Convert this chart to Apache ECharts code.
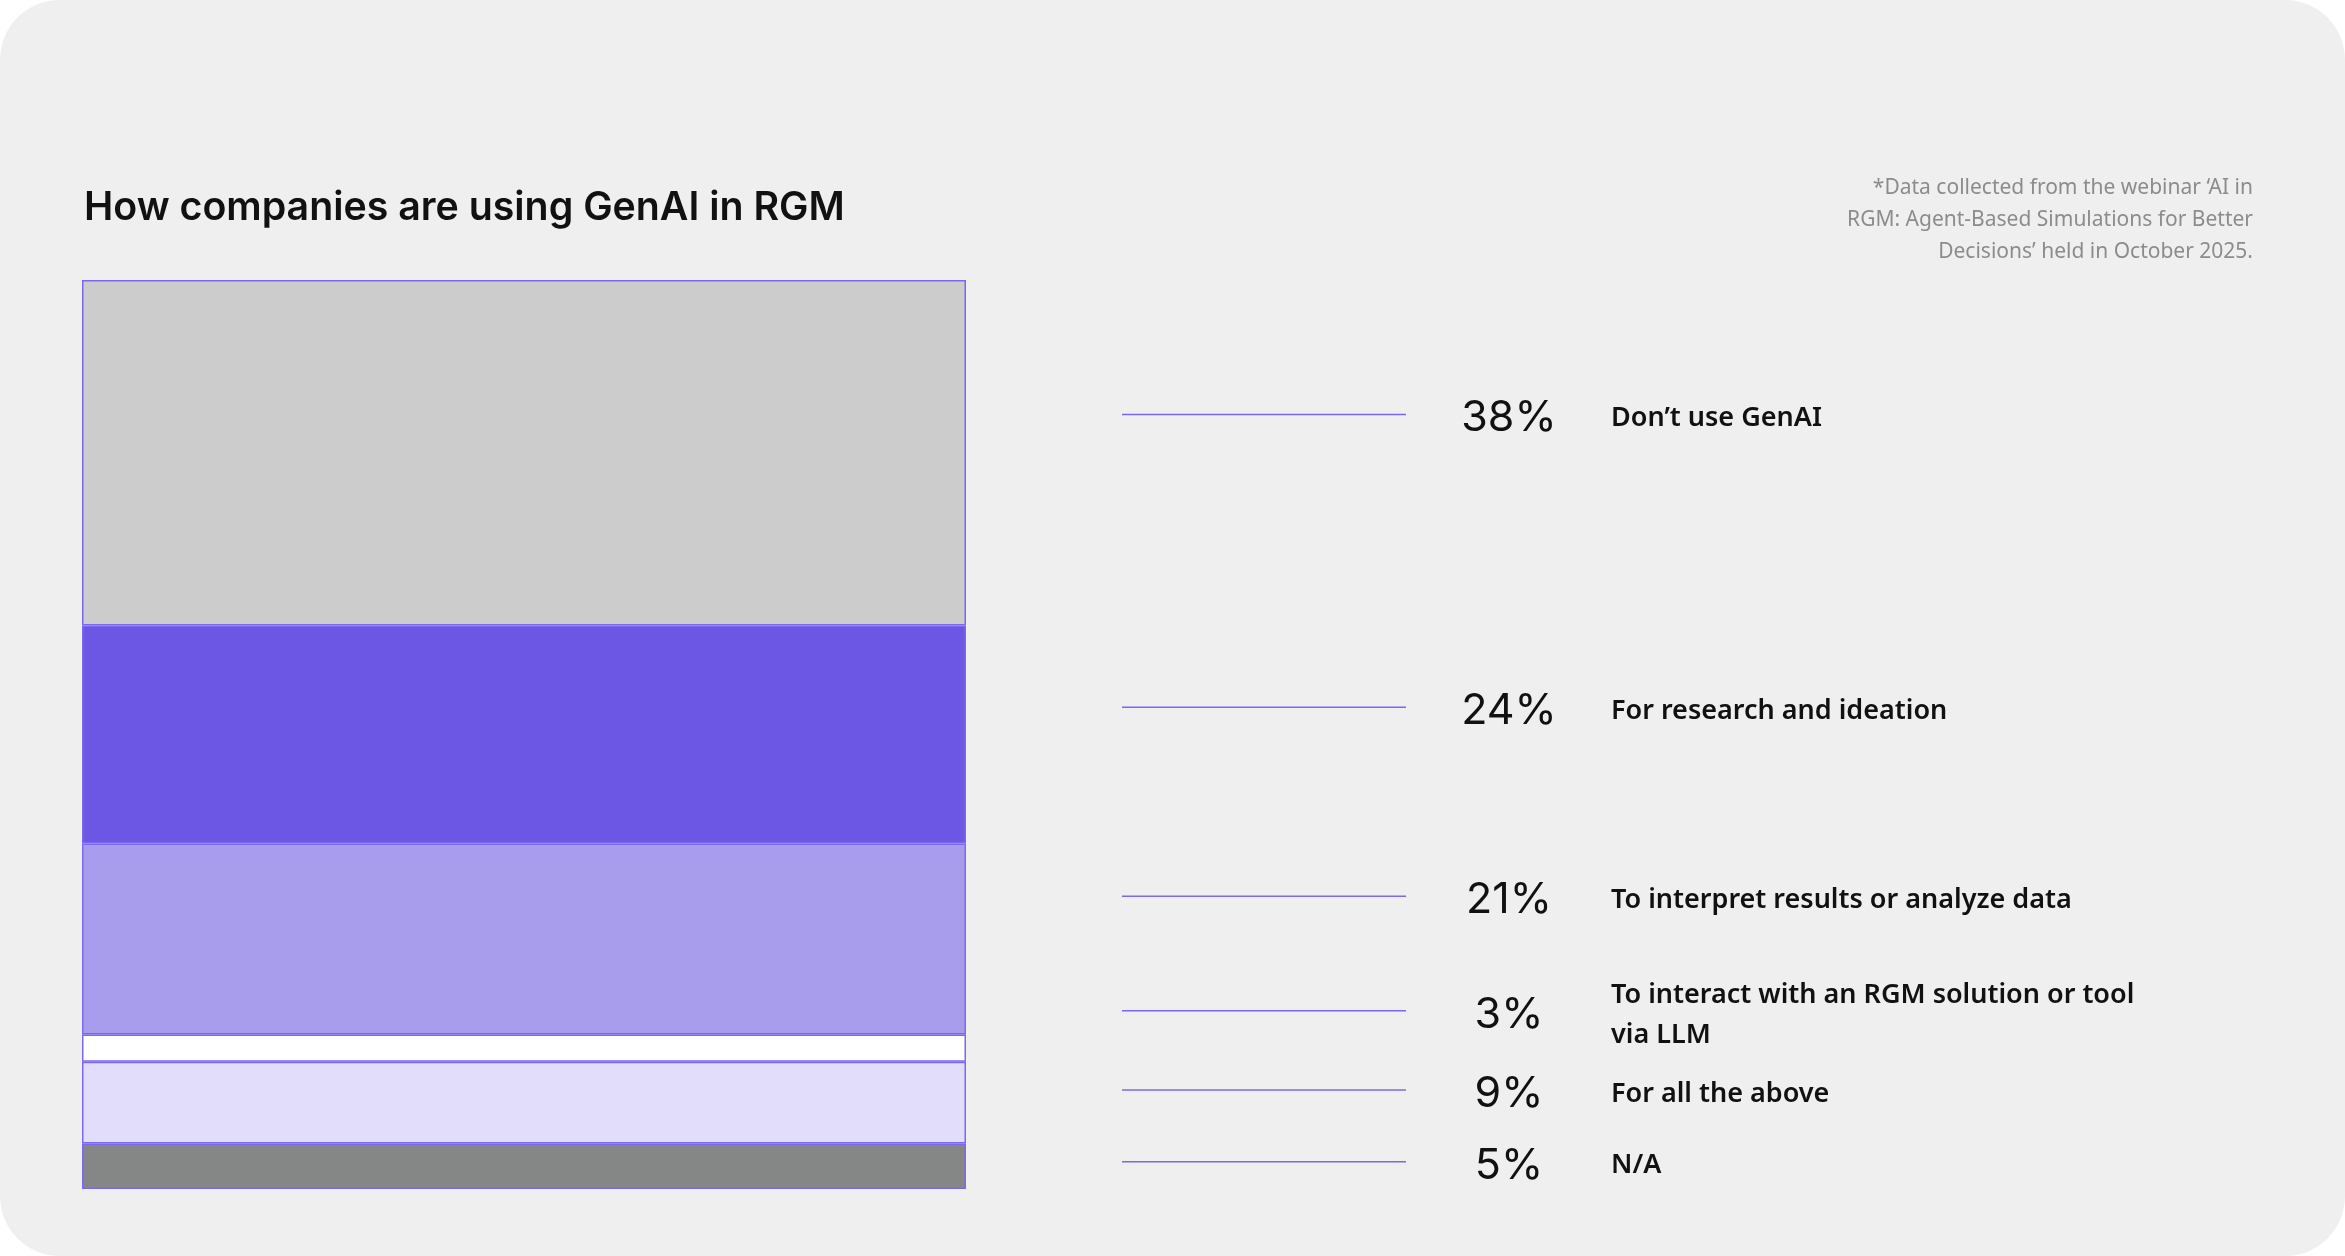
<!DOCTYPE html>
<html>
<head>
<meta charset="utf-8">
<script src="https://cdn.jsdelivr.net/npm/echarts@6/dist/echarts.min.js"></script>
<style>
  html, body { margin:0; padding:0; background:#ffffff; }
  #chart { width:2345px; height:1256px; background:#efefef; border-radius:60px; overflow:hidden; }
</style>
</head>
<body>
<div id="chart"></div>
<script>
// Data (top to bottom as shown)
const categories = [
  "Don’t use GenAI",
  "For research and ideation",
  "To interpret results or analyze data",
  "To interact with an RGM solution or tool\nvia LLM",
  "For all the above",
  "N/A"
];
const values = [38, 24, 21, 3, 9, 5];
const segmentColors = ["#cccccc", "#6c57e5", "#a89dec", "#ffffff", "#e1ddfa", "#858786"];
// Label anchor positions (percent of bar height from top) – layout only
const labelAnchor = [14.8, 47.0, 67.8, 80.4, 89.1, 97.0];

const chart = echarts.init(document.getElementById('chart'), null, { renderer: 'canvas' });

const purple = '#7b68ee';

// stacked bars: bottom series first
const barSeries = [];
for (let i = categories.length - 1; i >= 0; i--) {
  barSeries.push({
    type: 'bar',
    name: categories[i],
    stack: 'total',
    xAxisIndex: 0,
    yAxisIndex: 0,
    barWidth: '100%',
    data: [values[i]],
    itemStyle: { color: segmentColors[i], borderColor: purple, borderWidth: 1.5 },
    silent: true
  });
}

const option = {
  animation: false,
  backgroundColor: 'transparent',
  title: {
    text: 'How companies are using GenAI in RGM',
    left: 79,
    top: 184,
    textStyle: { fontFamily: 'Inter', fontWeight: 600, fontSize: 39.3, color: '#111111' }
  },
  graphic: [{
    type: 'text',
    style: {
      text: '*Data collected from the webinar ‘AI in\nRGM: Agent-Based Simulations for Better\nDecisions’ held in October 2025.',
      x: 2253, y: 172,
      align: 'right', verticalAlign: 'top',
      font: '400 21px "Noto Sans"',
      lineHeight: 32,
      fill: '#8c8c8c'
    }
  }],
  grid: [
    { left: 82, right: 1379, top: 280, bottom: 67 },
    { left: 1122, right: 0, top: 280, bottom: 67 }
  ],
  xAxis: [
    { type: 'category', gridIndex: 0, data: [''], show: false },
    { type: 'value', gridIndex: 1, min: 0, max: 1, show: false }
  ],
  yAxis: [
    { type: 'value', gridIndex: 0, min: 0, max: 100, show: false },
    { type: 'value', gridIndex: 1, min: 0, max: 100, inverse: true, show: false }
  ],
  series: barSeries.concat([{
    type: 'custom',
    xAxisIndex: 1,
    yAxisIndex: 1,
    silent: true,
    data: values.map((v, i) => [v, labelAnchor[i]]),
    renderItem: function (params, api) {
      const i = params.dataIndex;
      const y = api.coord([0, api.value(1)])[1];
      const x0 = params.coordSys.x;
      return {
        type: 'group',
        children: [
          { type: 'line', shape: { x1: x0, y1: y, x2: x0 + 284, y2: y },
            style: { stroke: purple, lineWidth: 1.5 } },
          { type: 'text', style: { text: api.value(0) + '%', x: x0 + 387, y: y + 4,
            align: 'center', verticalAlign: 'middle', font: '400 43px Inter', fill: '#111111' } },
          { type: 'text', style: { text: categories[i], x: x0 + 489, y: y + 4,
            align: 'left', verticalAlign: 'middle', font: '600 27px "Noto Sans"', lineHeight: 40, fill: '#111111' } }
        ]
      };
    }
  }])
};
chart.setOption(option);
</script>
</body>
</html>
